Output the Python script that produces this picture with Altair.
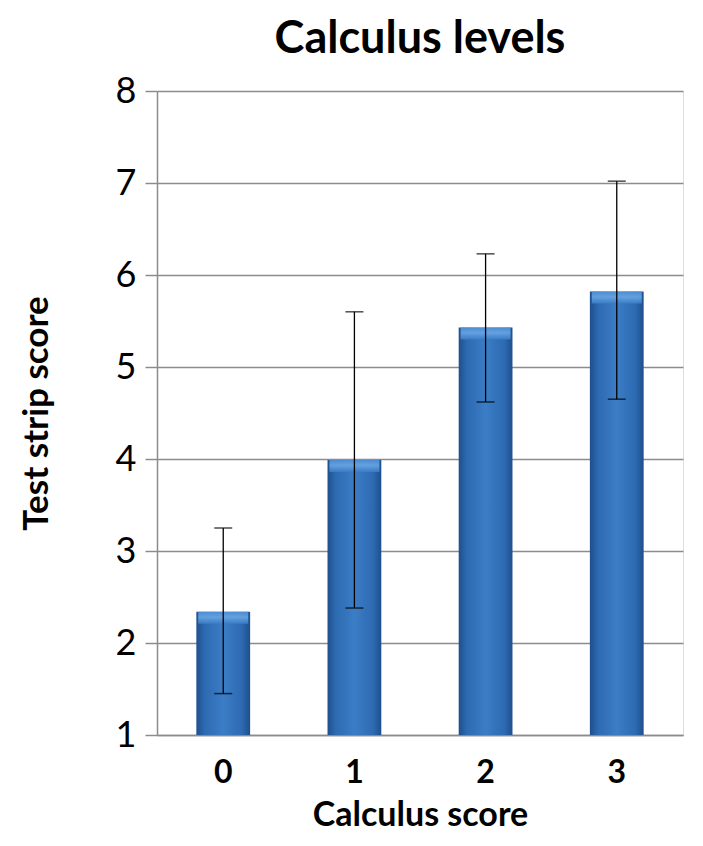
import altair as alt
import pandas as pd

categories = ["0", "1", "2", "3"]
means = [2.34, 3.99, 5.43, 5.82]
err_low = [1.45, 2.38, 4.62, 4.65]
err_high = [3.25, 5.60, 6.23, 7.02]

df = pd.DataFrame({
    "cat": categories,
    "mean": means,
    "lo": err_low,
    "hi": err_high,
})

FONT = "Lato"

x = alt.X("cat:N", title="Calculus score",
          scale=alt.Scale(paddingInner=0.59, paddingOuter=0.3),
          axis=alt.Axis(labelAngle=0, labelFontSize=32, labelFontWeight="bold",
                        labelFont=FONT, labelColor="black", ticks=False,
                        labelPadding=22, titleFontSize=34, titleFont=FONT,
                        titleFontWeight="bold", titleColor="black", titlePadding=10,
                        domainColor="#8c8c8c", domainWidth=1.5, grid=False))
y_axis = alt.Axis(values=[1, 2, 3, 4, 5, 6, 7, 8], format="d", labelFontSize=36,
                  labelFont=FONT, labelColor="black", labelFontWeight="normal",
                  tickSize=12, tickColor="#8c8c8c", tickWidth=1.5, labelPadding=9,
                  domainColor="#8c8c8c", domainWidth=1.5,
                  gridColor="#8c8c8c", gridWidth=1.5,
                  title="Test strip score", titleFontSize=35, titleFont=FONT,
                  titleFontWeight="bold", titleColor="black", titlePadding=61)
y_scale = alt.Scale(domain=[1, 8], nice=False, zero=False)

grad = alt.Gradient(
    gradient="linear", x1=0, x2=1, y1=0, y2=0,
    stops=[
        alt.GradientStop(color="#1e4f8c", offset=0),
        alt.GradientStop(color="#2d6ab1", offset=0.15),
        alt.GradientStop(color="#3b7dc6", offset=0.5),
        alt.GradientStop(color="#2d6ab1", offset=0.85),
        alt.GradientStop(color="#1e4f8c", offset=1),
    ],
)
top_grad = alt.Gradient(
    gradient="linear", x1=0, x2=0, y1=0, y2=1,
    stops=[
        alt.GradientStop(color="#4f8fd4", offset=0),
        alt.GradientStop(color="#6aa6e4", offset=0.45),
        alt.GradientStop(color="#3b7dc6", offset=1),
    ],
)

base = alt.Chart(df)

bars = base.mark_bar(color=grad).encode(
    x=x,
    y=alt.Y("mean:Q", scale=y_scale, axis=y_axis),
    y2=alt.datum(1),
)
bevel = base.mark_tick(color=top_grad, thickness=12, size=50, yOffset=6,
                       opacity=0.9).encode(
    x="cat:N", y="mean:Q"
)

rules = base.mark_rule(color="black", strokeWidth=1.3).encode(
    x="cat:N", y="lo:Q", y2="hi:Q"
)
cap_lo = base.mark_tick(color="black", thickness=1.5, size=18).encode(
    x="cat:N", y="lo:Q"
)
cap_hi = base.mark_tick(color="black", thickness=1.5, size=18).encode(
    x="cat:N", y="hi:Q"
)

chart = alt.layer(bars, bevel, rules, cap_lo, cap_hi).properties(
    width=526, height=644,
    title=alt.TitleParams("Calculus levels", fontSize=45, font=FONT,
                          fontWeight="bold", color="black", offset=11),
    autosize=alt.AutoSizeParams(type="none"),
    padding={"left": 149, "top": 83, "right": 12, "bottom": 100},
).configure_view(fill="#c4d6ed", stroke=None).configure(background="white")

chart.save("out.html", embed_options={"renderer": "svg", "actions": False})
